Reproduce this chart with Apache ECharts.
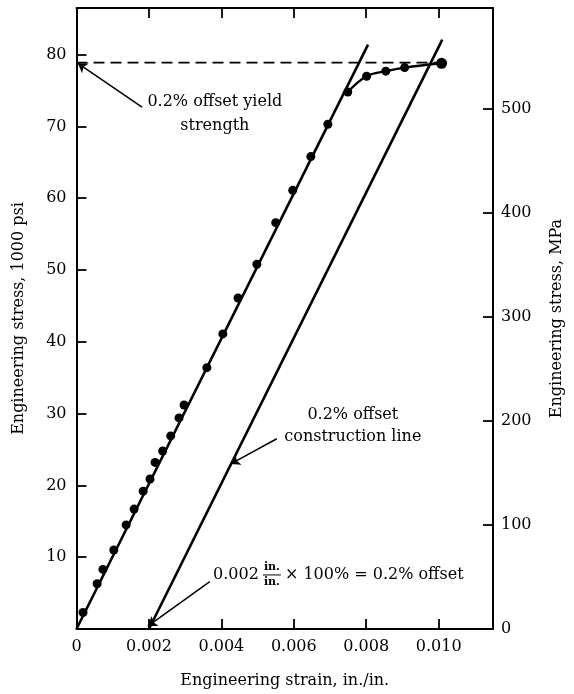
<!DOCTYPE html>
<html><head><meta charset="utf-8">
<script src="https://cdn.jsdelivr.net/npm/echarts@6/dist/echarts.min.js"></script>
<style>html,body{margin:0;padding:0;background:#fff}#c{width:574px;height:694px}</style>
</head><body><div id="c"></div>
<script>
// ---- data ----
const strain = [0.00018,0.00057,0.00073,0.00103,0.00137,0.00159,0.00184,0.00203,0.00217,0.00238,0.00260,0.00283,0.00297,0.00360,0.00404,0.00446,0.00498,0.00550,0.00597,0.00647,0.00694,0.00749,0.00801,0.00854,0.00906,0.01008];
const stressKsi = [2.3,6.3,8.3,11.0,14.5,16.7,19.2,20.9,23.2,24.8,26.9,29.4,31.2,36.4,41.1,46.1,50.8,56.6,61.1,65.8,70.3,74.8,77.0,77.7,78.2,78.8];
const elasticStrain = [0, 0.00805];
const elasticStress = [0, 81.4];
const offsetStrain = [0.002, 0.0101];
const offsetStress = [0, 82.1];
const yieldStress = 78.9;
const curveStart = 21;           // index where the curve leaves the elastic line
const xMax = 0.0115, xInterval = 0.002;
const ksiMax = 86.5, ksiInterval = 10;
const KSI_TO_MPA = 6.895, mpaInterval = 100;

// ---- chart ----
const FONT = 'DejaVu Serif';
const FS = 16;
const chart = echarts.init(document.getElementById('c'));
const pts = strain.map((s,i)=>[s, stressKsi[i]]);
const curve = pts.slice(curveStart);
const lastIdx = pts.length-1;
const axisCommon = {
  axisLine:{show:true,onZero:false,lineStyle:{color:'#000',width:2}},
  axisTick:{show:true,inside:true,length:10,lineStyle:{color:'#000',width:1.8}},
  splitLine:{show:false},
  nameTextStyle:{fontFamily:FONT,fontSize:FS,color:'#000'},
};
const labelStyle = {fontFamily:FONT,fontSize:FS,color:'#000'};
const blk = '#000';

const option = {
  animation:false,
  backgroundColor:'#fff',
  grid:{left:76.5,right:81,top:8,bottom:59,containLabel:false},
  xAxis:[
    Object.assign({}, axisCommon, {type:'value',position:'bottom',min:0,max:xMax,interval:xInterval,
      axisLabel:Object.assign({}, labelStyle,{margin:10,showMaxLabel:false,formatter:v=>v===0?'0':v.toFixed(3)}),
      name:'Engineering strain, in./in.',nameLocation:'middle',nameGap:44}),
    Object.assign({}, axisCommon, {type:'value',position:'top',min:0,max:xMax,interval:xInterval,
      axisLabel:{show:false}})
  ],
  yAxis:[
    Object.assign({}, axisCommon, {type:'value',position:'left',min:0,max:ksiMax,interval:ksiInterval,
      axisLabel:Object.assign({}, labelStyle,{margin:10,showMaxLabel:false,formatter:v=>v===0?'':String(v)}),
      name:'Engineering stress, 1000 psi',nameLocation:'middle',nameRotate:90,nameGap:50}),
    Object.assign({}, axisCommon, {type:'value',position:'right',min:0,max:ksiMax*KSI_TO_MPA,interval:mpaInterval,
      axisLabel:Object.assign({}, labelStyle,{margin:8,showMaxLabel:false,formatter:v=>String(v)}),
      name:'Engineering stress, MPa',nameLocation:'middle',nameRotate:90,nameGap:56})
  ],
  series:[
    {type:'line',name:'elastic',data:elasticStrain.map((s,i)=>[s,elasticStress[i]]),symbol:'none',
     lineStyle:{color:blk,width:2.6},silent:true,
     markLine:{silent:true,symbol:['none','arrow'],symbolSize:9,label:{show:false},
       lineStyle:{color:blk,width:1.5,type:'solid'},
       data:[
         [{coord:[0.00181,72.7]},{coord:[0.00004,78.8]}],
         [{coord:[0.00553,26.5]},{coord:[0.00426,23.0]}],
         [{coord:[0.00368,6.6]},{coord:[0.00197,0.4]}]
       ]}},
    {type:'line',name:'offset',data:offsetStrain.map((s,i)=>[s,offsetStress[i]]),symbol:'none',
     lineStyle:{color:blk,width:2.6},silent:true},
    {type:'line',name:'yield',data:[[0,yieldStress],[strain[lastIdx],yieldStress]],symbol:'none',
     lineStyle:{color:blk,width:1.7,type:[11,6]},silent:true},
    {type:'line',name:'curve',data:curve,smooth:0.4,symbol:'none',
     lineStyle:{color:blk,width:2.4},silent:true},
    {type:'scatter',name:'points',data:pts.map((p,i)=>({value:p,symbolSize:i===lastIdx?11:9})),
     itemStyle:{color:blk,opacity:1},silent:true}
  ]
};
chart.setOption(option);

// ---- annotations anchored in data coordinates ----
const px = (s,k)=>chart.convertToPixel({xAxisIndex:0,yAxisIndex:0},[s,k]);
const a1 = px(0.00382,71.7), a2 = px(0.00763,28.3), a3 = px(0.00377,7.6);
const tf = FS + 'px "DejaVu Serif"';
const ff = 'bold 11px "DejaVu Serif"';
const ctx = document.createElement('canvas').getContext('2d');
ctx.font = tf;
const w0 = ctx.measureText('0.002 ').width;
ctx.font = ff;
const wf = ctx.measureText('in.').width;
const gfx = [
  {type:'text',x:a1[0],y:a1[1],style:{text:'0.2% offset yield\nstrength',font:tf,fill:'#000',align:'center',verticalAlign:'middle',lineHeight:24}},
  {type:'text',x:a2[0],y:a2[1],style:{text:'0.2% offset\nconstruction line',font:tf,fill:'#000',align:'center',verticalAlign:'middle',lineHeight:22}},
  {type:'text',x:a3[0],y:a3[1],style:{text:'0.002',font:tf,fill:'#000',align:'left',verticalAlign:'middle'}},
  {type:'text',x:a3[0]+w0+wf/2,y:a3[1]-7,style:{text:'in.',font:ff,fill:'#000',align:'center',verticalAlign:'middle'}},
  {type:'line',shape:{x1:a3[0]+w0-1,y1:a3[1]+0.5,x2:a3[0]+w0+wf+1,y2:a3[1]+0.5},style:{stroke:'#000',lineWidth:1}},
  {type:'text',x:a3[0]+w0+wf/2,y:a3[1]+8,style:{text:'in.',font:ff,fill:'#000',align:'center',verticalAlign:'middle'}},
  {type:'text',x:a3[0]+w0+wf+5,y:a3[1],style:{text:'× 100% = 0.2% offset',font:tf,fill:'#000',align:'left',verticalAlign:'middle'}}
];
chart.setOption({graphic:gfx});
</script></body></html>
